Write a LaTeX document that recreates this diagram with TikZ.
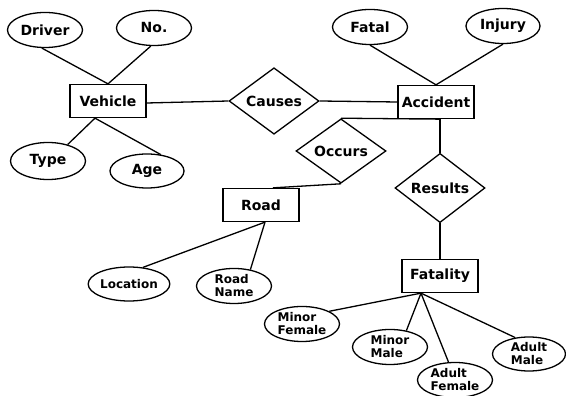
\documentclass[tikz,border=0pt]{standalone}
\usepackage{fontspec}
\setmainfont{DejaVu Sans}
\usetikzlibrary{shapes.geometric}

\begin{document}
\begin{tikzpicture}[x=1pt,y=1pt,line width=1.3pt,
  entity/.style={draw,rectangle,minimum width=76pt,minimum height=33pt,inner sep=0pt,font=\fontsize{14}{16}\selectfont\bfseries},
  attr/.style={draw,ellipse,minimum width=75pt,minimum height=35pt,inner sep=0pt,font=\fontsize{14}{16}\selectfont\bfseries},
  smallattr/.style={attr,align=left,font=\fontsize{12}{13}\selectfont\bfseries},
  relation/.style={draw,diamond,minimum width=90pt,minimum height=45pt,inner sep=0pt,font=\fontsize{14}{16}\selectfont\bfseries}]
\useasboundingbox (0,0) rectangle (566,396);
\node[entity] (vehicle) at (108,295) {Vehicle};
\node[attr] (driver) at (45,366) {Driver};
\node[attr] (no) at (154,368) {No.};
\node[attr,minimum height=37pt] (type) at (48,235) {Type};
\node[attr,minimum width=74pt,minimum height=34pt] (age) at (147,225) {Age};
\node[relation] (causes) at (274,295) {Causes};
\node[entity] (accident) at (436,294) {Accident};
\node[attr] (fatal) at (370,369) {Fatal};
\node[attr,minimum width=74pt] (injury) at (503,370) {Injury};
\node[relation] (occurs) at (341,245) {Occurs};
\node[relation] (results) at (440,208) {Results};
\node[entity] (road) at (261,191) {Road};
\node[smallattr,minimum height=34pt] (location) at (129,112) {Location};
\node[smallattr] (roadname) at (234,110) {Road\\Name};
\node[entity] (fatality) at (440,120) {Fatality};
\node[smallattr] (minorfemale) at (302,72) {Minor\\Female};
\node[smallattr] (minormale) at (390,49) {Minor\\Male};
\node[smallattr] (adultfemale) at (455,16) {Adult\\Female};
\node[smallattr,minimum width=73pt,minimum height=34pt] (adultmale) at (529,42) {Adult\\Male};
\draw (driver.-100) -- (vehicle.north);
\draw (no.-100) -- (vehicle.north);
\draw (type.40) -- ([xshift=-13pt]vehicle.south);
\draw (age.50) -- ([xshift=-13pt]vehicle.south);
\draw ([yshift=-2pt]vehicle.east) -- (causes.west);
\draw (causes.east) -- (accident.west);
\draw (fatal.south) -- (accident.north);
\draw (injury.south) -- (accident.north);
\draw ([xshift=4pt]accident.south) -- (occurs.north);
\draw ([xshift=4pt]accident.south) -- (results.north);
\draw (occurs.south) -- ([xshift=12pt]road.north);
\draw (results.south) -- (fatality.north);
\draw (location.50) -- ([xshift=4pt]road.south);
\draw (roadname.45) -- ([xshift=4pt]road.south);
\draw (minorfemale.25) -- ([xshift=-19pt]fatality.south);
\draw (minormale.45) -- ([xshift=-19pt]fatality.south);
\draw (adultfemale.110) -- ([xshift=-19pt]fatality.south);
\draw (adultmale.130) -- ([xshift=-19pt]fatality.south);
\end{tikzpicture}
\end{document}
